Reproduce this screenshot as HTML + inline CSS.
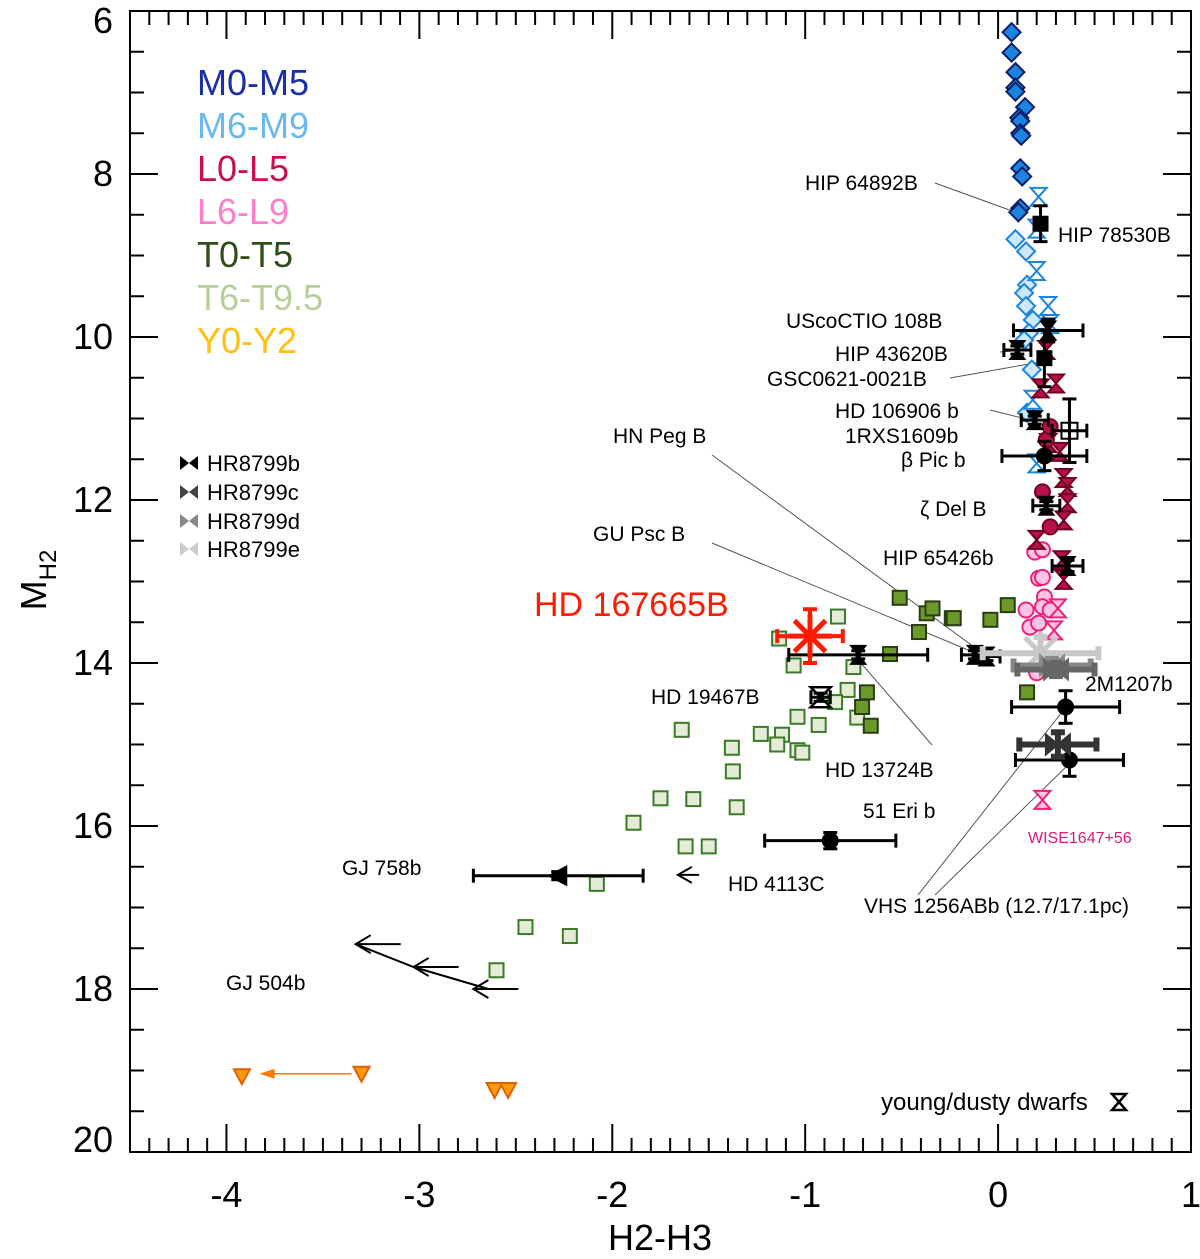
<!DOCTYPE html>
<html><head><meta charset="utf-8"><style>
html,body{margin:0;padding:0;background:#fff;}
svg{display:block;font-family:"Liberation Sans",sans-serif;}
</style></head><body>
<svg id="chart" width="1200" height="1259" viewBox="0 0 1200 1259" xmlns="http://www.w3.org/2000/svg">
<g id="ann" stroke="#555" stroke-width="1" fill="none">
<line x1="935" y1="183" x2="1015" y2="212"/>
<line x1="712" y1="455" x2="985" y2="655"/>
<line x1="712" y1="543" x2="980" y2="655"/>
<line x1="932" y1="745" x2="860" y2="662"/>
<line x1="950" y1="378" x2="1040" y2="362"/>
<line x1="990" y1="410" x2="1030" y2="420"/>
<line x1="1000" y1="352" x2="1012" y2="351"/>
<line x1="918" y1="895" x2="1062" y2="712"/>
<line x1="935" y1="895" x2="1068" y2="765"/>
</g>
<g id="marks"></g>
<g id="frame"></g>
<g font-size="36">
<text x="197" y="95" fill="#1a2fa8">M0-M5</text>
<text x="197" y="138" fill="#6ab8f0">M6-M9</text>
<text x="197" y="181" fill="#c8104a">L0-L5</text>
<text x="197" y="224" fill="#ff80c8">L6-L9</text>
<text x="197" y="267" fill="#2e4d1a">T0-T5</text>
<text x="197" y="310" fill="#b8cf98">T6-T9.5</text>
<text x="197" y="353" fill="#ffc010">Y0-Y2</text>
</g>
<g font-size="22">
<path d="M180,456 L198,470 L198,456 L180,470Z" fill="#000"/>
<text x="207" y="471">HR8799b</text>
<path d="M180,485 L198,499 L198,485 L180,499Z" fill="#444"/>
<text x="207" y="500">HR8799c</text>
<path d="M180,514 L198,528 L198,514 L180,528Z" fill="#888"/>
<text x="207" y="529">HR8799d</text>
<path d="M180,542 L198,556 L198,542 L180,556Z" fill="#ccc"/>
<text x="207" y="557">HR8799e</text>
</g>
<g font-size="21">
<text x="805" y="190">HIP 64892B</text>
<text x="1058" y="242">HIP 78530B</text>
<text x="786" y="328">UScoCTIO 108B</text>
<text x="835" y="361">HIP 43620B</text>
<text x="767" y="386">GSC0621-0021B</text>
<text x="835" y="418">HD 106906 b</text>
<text x="845" y="443">1RXS1609b</text>
<text x="901" y="467">β Pic b</text>
<text x="613" y="443">HN Peg B</text>
<text x="920" y="516">ζ Del B</text>
<text x="593" y="541">GU Psc B</text>
<text x="883" y="565">HIP 65426b</text>
<text x="534" y="616" font-size="34" fill="#ff1a00">HD 167665B</text>
<text x="651" y="704">HD 19467B</text>
<text x="1085" y="691">2M1207b</text>
<text x="825" y="777">HD 13724B</text>
<text x="863" y="818">51 Eri b</text>
<text x="1028" y="843" font-size="16" fill="#e0187a">WISE1647+56</text>
<text x="342" y="875">GJ 758b</text>
<text x="728" y="891">HD 4113C</text>
<text x="864" y="913">VHS 1256ABb (12.7/17.1pc)</text>
<text x="226" y="990">GJ 504b</text>
<text x="881" y="1110" font-size="24">young/dusty dwarfs</text>
<path d="M1112,1094 L1126,1094 L1112,1110 L1126,1110Z" fill="none" stroke="#000" stroke-width="2.5"/>
</g>
<text x="660" y="1250" font-size="36" text-anchor="middle">H2-H3</text>
<text transform="translate(46,580) rotate(-90)" font-size="36" text-anchor="middle">M<tspan font-size="24" dy="10">H2</tspan></text>
</svg>
<script>
const xTicks=[-4,-3,-2,-1,0,1];
const yTicks=[6,8,10,12,14,16,18,20];
const m05=[[0.07,6.26],[0.07,6.51],[0.09,6.75],[0.09,6.94],[0.09,6.99],[0.14,7.18],[0.11,7.31],[0.115,7.35],[0.115,7.50],[0.12,7.53],[0.115,7.93],[0.125,8.03],[0.115,8.42],[0.105,8.47]];
const m69=[[0.09,8.80],[0.145,8.95],[0.15,9.36],[0.135,9.46],[0.145,9.62],[0.18,9.79],[0.16,9.95],[0.135,10.04],[0.175,10.40],[0.15,10.93]];
const m69young=[[0.21,8.28],[0.20,8.67],[0.20,9.19],[0.26,9.62],[0.27,9.84],[0.18,10.77],[0.2,11.55]];
const l05young=[[0.25,10.16],[0.22,10.63],[0.30,10.57],[0.32,11.41],[0.34,11.73],[0.36,11.84],[0.36,12.04],[0.34,12.25],[0.2,12.49],[0.33,12.74],[0.34,12.98],[0.26,11.3]];
const l05=[[0.23,11.90],[0.27,12.33],[0.25,11.26],[0.27,11.1]];
const l69=[[0.19,12.64],[0.23,12.61],[0.21,12.96],[0.23,12.95],[0.24,13.19],[0.145,13.35],[0.23,13.31],[0.27,13.35],[0.165,13.56],[0.21,13.51],[0.2,14.12]];
const l69young=[[0.31,13.33],[0.29,13.6],[0.23,15.68]];
const t05=[[-0.51,13.20],[-0.37,13.39],[-0.34,13.33],[-0.24,13.45],[-0.41,13.62],[-0.04,13.47],[-0.56,13.89],[-0.68,14.36],[-0.705,14.54],[-0.66,14.77],[0.05,13.29],[-0.23,13.45],[0.15,14.36]];
const t69=[[-0.83,13.43],[-1.135,13.70],[-1.06,14.03],[-0.75,14.05],[-0.78,14.33],[-0.845,14.48],[-0.73,14.67],[-1.04,14.66],[-0.93,14.76],[-1.23,14.87],[-1.12,14.88],[-1.145,15.0],[-1.04,15.07],[-1.015,15.1],[-1.38,15.04],[-1.375,15.33],[-1.64,14.82],[-1.355,15.77],[-1.75,15.66],[-1.58,15.67],[-1.89,15.96],[-1.62,16.25],[-1.50,16.25],[-2.08,16.71],[-2.45,17.24],[-2.22,17.35],[-2.60,17.77]];
const yDwarfs=[[-3.92,19.07],[-3.30,19.04],[-2.61,19.24],[-2.54,19.24]];
const compX=[0.22,0.26,0.10,0.24,0.19,0.37,0.24,0.25,0.36,-0.12,-0.06,-0.725,-0.92,0.35,0.37,-0.87,-2.28,0.22,0.28,0.30,0.31];
const compY=[8.61,9.92,10.16,10.26,11.02,11.15,11.46,12.07,12.81,13.90,13.92,13.90,14.42,14.54,15.19,16.18,16.61,13.88,14.03,14.08,15.0];
const compXerr=[0.03,0.18,0.07,0.03,0.07,0.09,0.22,0.07,0.08,0.07,0.07,0.36,0.05,0.28,0.28,0.34,0.44,0.3,0.2,0.2,0.2];
const compYerr=[0.22,0.14,0.05,0.35,0.05,0.39,0.18,0.05,0.07,0.05,0.05,0.05,0.05,0.2,0.2,0.1,0.05,0.2,0.08,0.08,0.15];
const compM=['sq','bow','bow','sq','bow','osq','ci','bow','bow','bow','bow','bow','ohg','ci','ci','ci','ltri','star','hbow','hbow','hbow'];
const compC=['#000','#000','#000','#000','#000','#000','#000','#000','#000','#000','#000','#000','#000','#000','#000','#000','#000','#c8c8c8','#888','#666','#333'];
const target=[-0.975,13.67,0.17,0.33];

const L=130,R=1191,T=11,B=1152,X0=-4.5,X1=1,Y0=6,Y1=20;
const sx=v=>L+(v-X0)/(X1-X0)*(R-L);
const sy=v=>T+(v-Y0)/(Y1-Y0)*(B-T);
const NS='http://www.w3.org/2000/svg';
function mk(tag,at,parent){const e=document.createElementNS(NS,tag);for(const k in at)e.setAttribute(k,at[k]);parent.appendChild(e);return e;}
const G=document.getElementById('marks');
const F=document.getElementById('frame');

let fr=mk('rect',{x:L,y:T,width:R-L,height:B-T,fill:'none',stroke:'#000','stroke-width':2},F);


for(let i=0;i<=55;i++){const v=X0+i*0.1;const px=sx(v);const maj=Math.abs(v-Math.round(v))<1e-6;const len=maj?28:14;
 mk('line',{x1:px,y1:B,x2:px,y2:B-len,stroke:'#000','stroke-width':2},F);
 mk('line',{x1:px,y1:T,x2:px,y2:T+len,stroke:'#000','stroke-width':2},F);}
for(let i=0;i<=28;i++){const v=Y0+i*0.5;const py=sy(v);const maj=(v%2)===0;const len=maj?28:14;
 mk('line',{x1:L,y1:py,x2:L+len,y2:py,stroke:'#000','stroke-width':2},F);
 mk('line',{x1:R,y1:py,x2:R-len,y2:py,stroke:'#000','stroke-width':2},F);}
xTicks.forEach(v=>{const t=mk('text',{x:sx(v),y:1207,'font-size':36,'text-anchor':'middle'},F);t.textContent=String(v);
 
 });
yTicks.forEach((v,i)=>{const off=i===0?10:(i===yTicks.length-1?-12:0);const t=mk('text',{x:113,y:sy(v)+12+off,'font-size':36,'text-anchor':'end'},F);t.textContent=String(v);
 
 });

function marker(kind,x,y,fill,stroke,sw){
 const px=sx(x),py=sy(y);let e;
 if(kind==='dia')e=mk('polygon',{points:`${px},${py-9} ${px+9},${py} ${px},${py+9} ${px-9},${py}`,fill,stroke,'stroke-width':sw},G);
 else if(kind==='hg')e=mk('path',{d:`M${px-8},${py-9}L${px+8},${py-9}L${px-8},${py+9}L${px+8},${py+9}Z`,fill,stroke,'stroke-width':sw},G);
 else if(kind==='sq')e=mk('rect',{x:px-7,y:py-7,width:14,height:14,fill,stroke,'stroke-width':sw},G);
 else if(kind==='ci')e=mk('circle',{cx:px,cy:py,r:7.5,fill,stroke,'stroke-width':sw},G);
 else if(kind==='tri')e=mk('polygon',{points:`${px-8},${py-7} ${px+8},${py-7} ${px},${py+8}`,fill,stroke,'stroke-width':sw},G);
 else if(kind==='bow')e=mk('path',{d:`M${px-7},${py-9}L${px+7},${py-9}L${px-7},${py+9}L${px+7},${py+9}Z`,fill,stroke,'stroke-width':sw},G);
 else if(kind==='hbow')e=mk('path',{d:`M${px-12},${py-10}L${px+12},${py+10}L${px+12},${py-10}L${px-12},${py+10}Z`,fill,stroke,'stroke-width':sw},G);
 else if(kind==='ltri')e=mk('polygon',{points:`${px-9},${py} ${px+8},${py-9} ${px+8},${py+9}`,fill,stroke,'stroke-width':sw},G);
 else if(kind==='osq')e=mk('rect',{x:px-8,y:py-8,width:16,height:16,fill:'none',stroke,'stroke-width':2},G);
 else if(kind==='ohg')e=mk('path',{d:`M${px-10},${py-10}L${px+10},${py-10}L${px-10},${py+10}L${px+10},${py+10}Z`,fill:'none',stroke,'stroke-width':2.5},G);
 else if(kind==='star'){e=mk('g',{stroke:fill,'stroke-width':5},G);for(let a=0;a<4;a++){const ang=a*Math.PI/4;mk('line',{x1:px-22*Math.cos(ang),y1:py-22*Math.sin(ang),x2:px+22*Math.cos(ang),y2:py+22*Math.sin(ang)},e);}}
 return e;
}
function series(data,kind,fill,stroke,name){data.forEach(d=>{const e=marker(kind,d[0],d[1],fill,stroke,2);
 
 });}
series(t69,'sq','#e4ecd8','#3c7a2a','t6-t9-point');
series(t05,'sq','#6b9a2a','#2a3d14','t0-t5-point');
series(m05,'dia','#1a84e0','#0a1f6a','m0-m5-point');
series(m69,'dia','#cce8fb','#1a84e0','m6-m9-point');
series(m69young,'hg','#fff','#1a84e0','m6-m9-young-point');
series(l69,'ci','#ffc4e4','#f0207a','l6-l9-point');
series(l69young,'hg','#ffc4e4','#f0207a','l6-l9-young-point');
series(l05young,'hg','#b8104a','#700020','l0-l5-young-point');
series(l05,'ci','#b8104a','#700020','l0-l5-point');
series(yDwarfs,'tri','#ff9a10','#e06000','y-dwarf-point');
let ya=mk('g',{stroke:'#ff7a00',fill:'#ff7a00','stroke-width':1.5},G);


mk('line',{x1:sx(yDwarfs[1][0])-10,y1:sy(yDwarfs[1][1]),x2:sx(yDwarfs[0][0])+22,y2:sy(yDwarfs[1][1])},ya);
mk('polygon',{points:`${sx(yDwarfs[0][0])+20},${sy(yDwarfs[1][1])} ${sx(yDwarfs[0][0])+32},${sy(yDwarfs[1][1])-4} ${sx(yDwarfs[0][0])+32},${sy(yDwarfs[1][1])+4}`},ya);

function errbar(x,y,xe,ye,col,w){const g=mk('g',{stroke:col,'stroke-width':w,fill:'none'},G);
 const px=sx(x),py=sy(y),x1=sx(x-xe),x2=sx(x+xe),y1=sy(y-ye),y2=sy(y+ye);
 mk('line',{x1,y1:py,x2,y2:py},g);mk('line',{x1:x1,y1:py-7,x2:x1,y2:py+7},g);mk('line',{x1:x2,y1:py-7,x2:x2,y2:py+7},g);
 mk('line',{x1:px,y1,x2:px,y2},g);mk('line',{x1:px-7,y1,x2:px+7,y2:y1},g);mk('line',{x1:px-7,y1:y2,x2:px+7,y2},g);return g;}
for(let i=0;i<compX.length;i++){
 const w=compC[i]==='#000'?3:6;
 const eb=errbar(compX[i],compY[i],compXerr[i],compYerr[i],compC[i],w);
 
 
 const m=marker(compM[i],compX[i],compY[i],compC[i],compC[i],2);
 
 
}
const te=errbar(target[0],target[1],target[2],target[3],'#ff1a00',4);


const tm=marker('star',target[0],target[1],'#ff1a00','#ff1a00',4);


function arrow(xa,ya2,xb,name){const g=mk('g',{stroke:'#000','stroke-width':2,fill:'none'},G);
 
 
 const p1=sx(xa),p2=sx(xb),py=sy(ya2);
 mk('line',{x1:p1,y1:py,x2:p2,y2:py},g);mk('polyline',{points:`${p2+14},${py-8} ${p2},${py} ${p2+14},${py+8}`},g);}
arrow(-1.55,16.6,-1.66,'hd4113c-arrow');
const gjX=[-2.72,-3.03,-3.33];const gjY=[18.0,17.73,17.45];
const gj=mk('g',{stroke:'#000','stroke-width':2,fill:'none'},G);


mk('polyline',{points:gjX.map((x,i)=>`${sx(x)+(i?0:15)},${sy(gjY[i])}`).join(' ')},gj);
gjX.forEach((x,i)=>{const p=sx(x),q=sy(gjY[i]);mk('line',{x1:p,y1:q,x2:p+45,y2:q},gj);mk('polyline',{points:`${p+15},${q-9} ${p},${q} ${p+15},${q+9}`},gj);});
</script>
</body></html>
